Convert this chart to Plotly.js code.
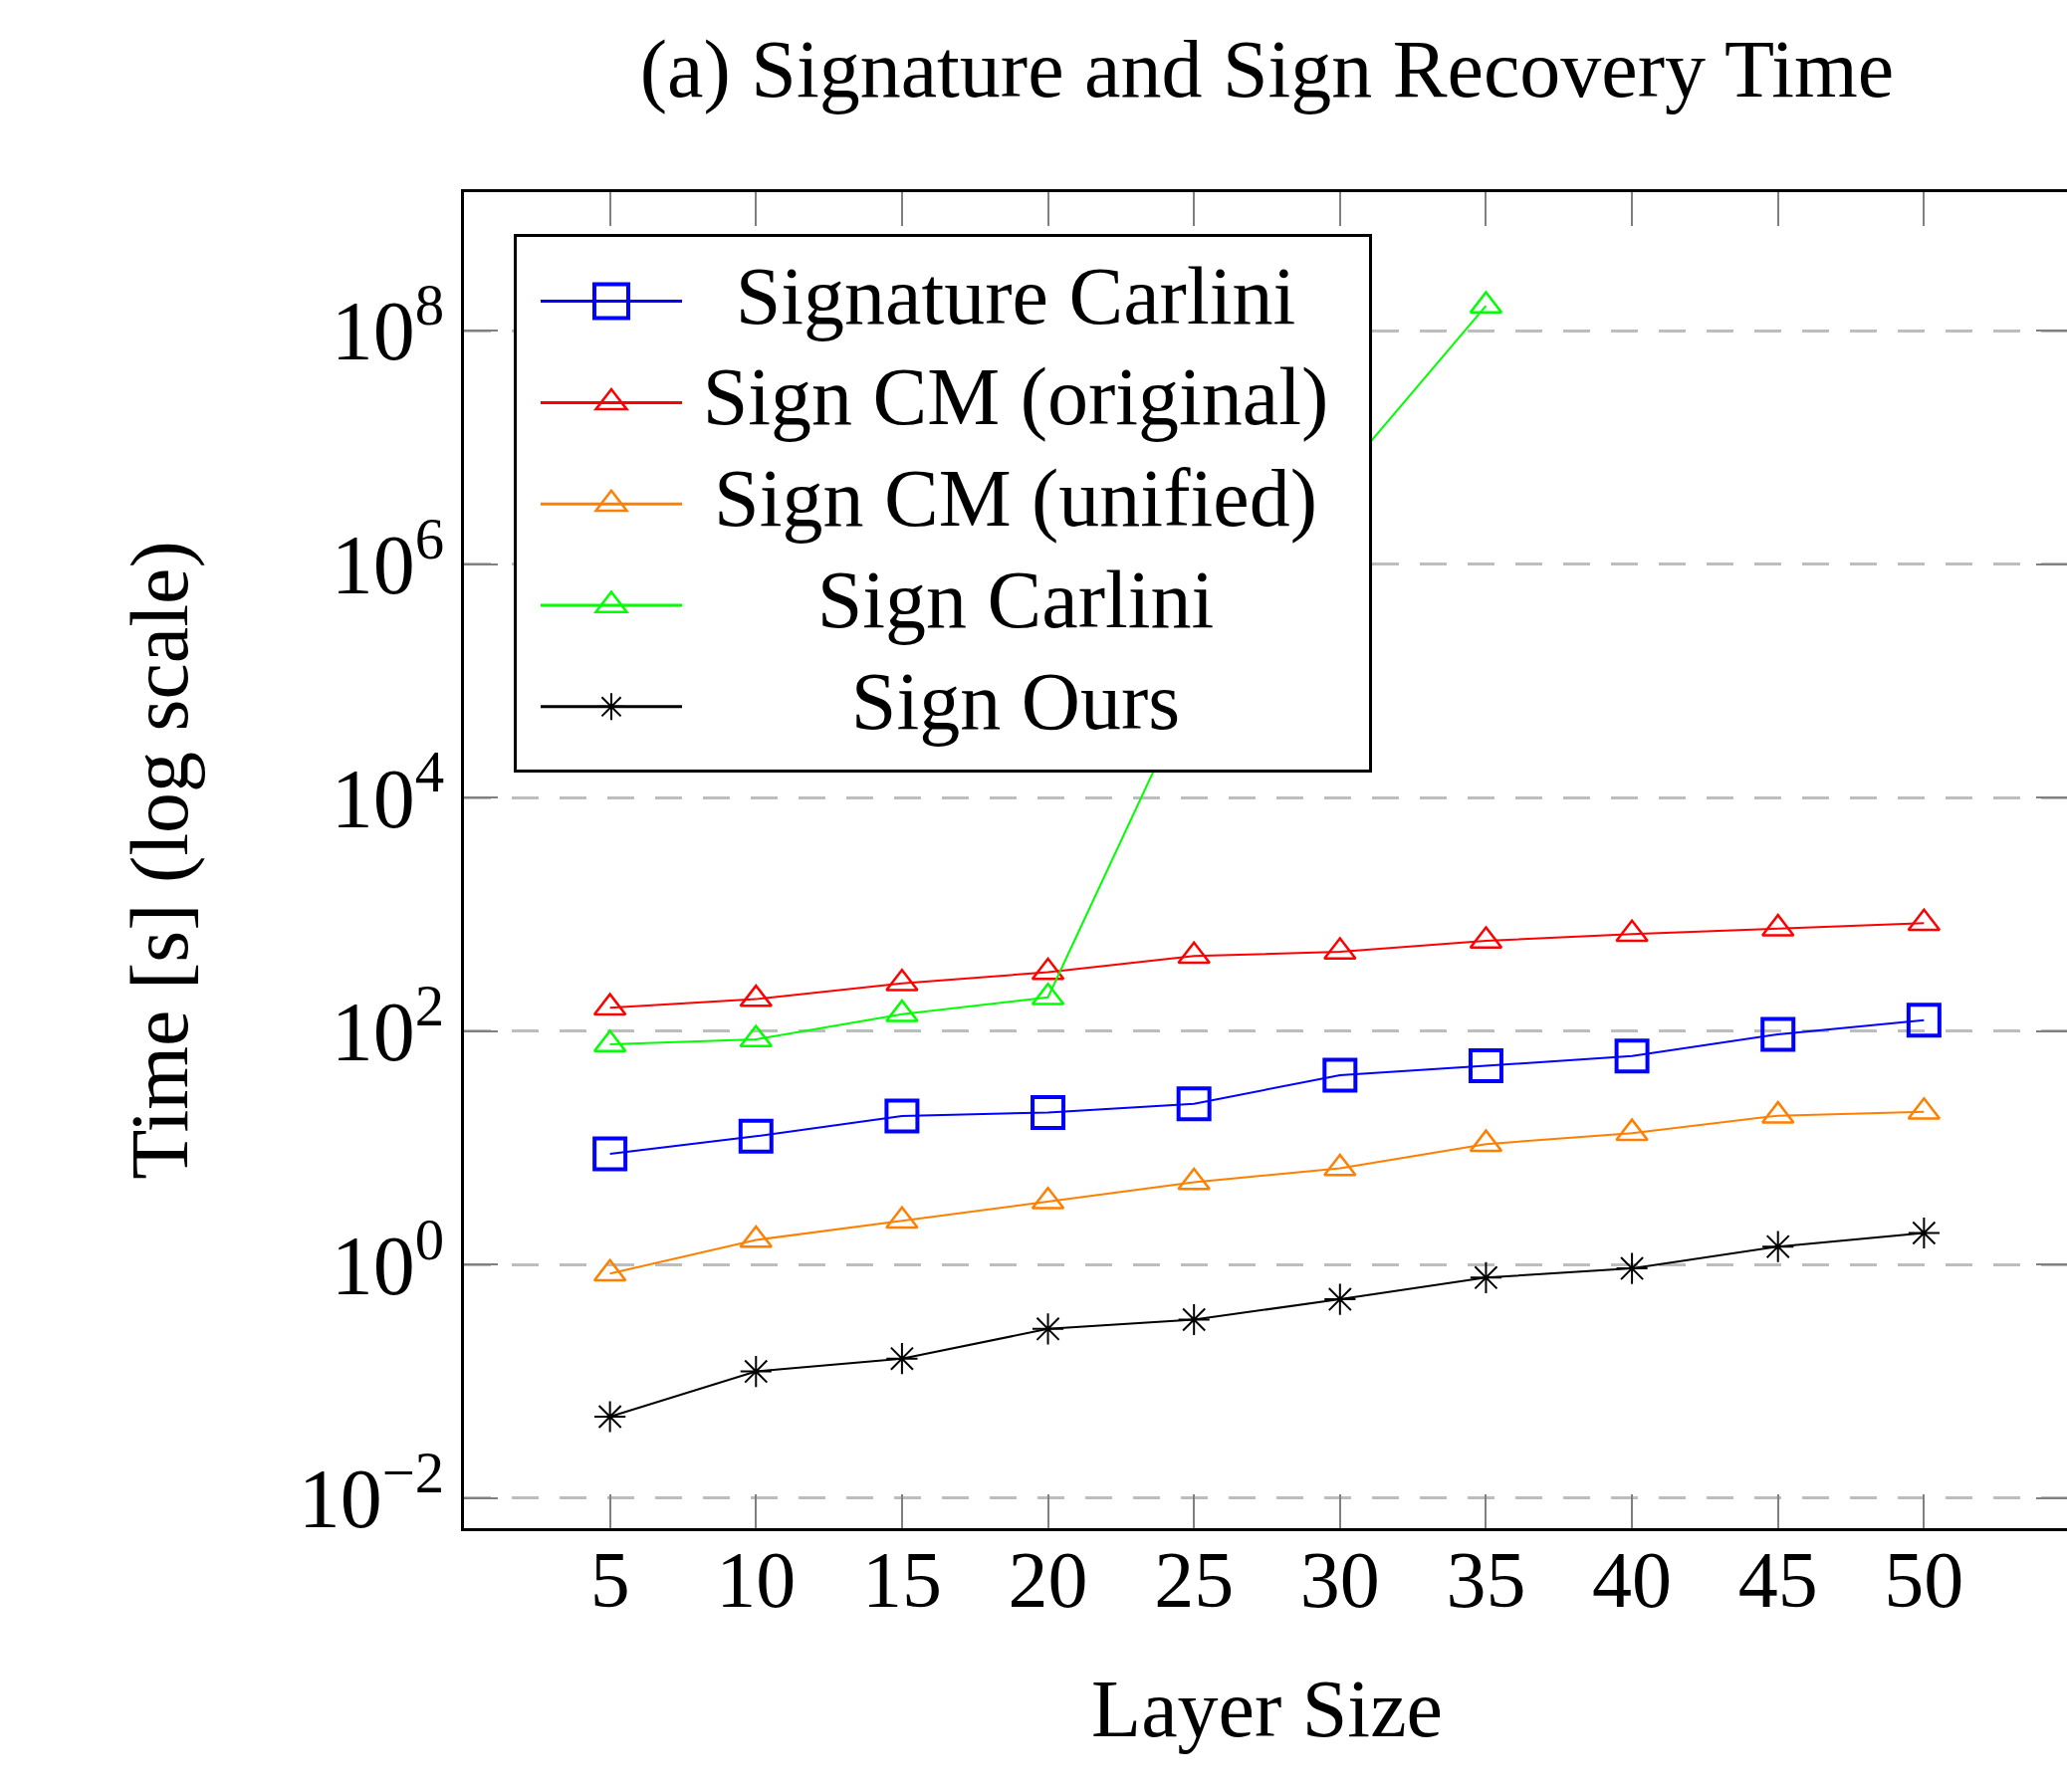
<!DOCTYPE html>
<html>
<head>
<meta charset="utf-8">
<script src="https://cdn.plot.ly/plotly-3.0.1.min.js"></script>
<style>
  html, body { margin: 0; padding: 0; overflow: hidden; background: #ffffff; }
  #chart { width: 2082px; height: 1800px; }
</style>
</head>
<body>
<div id="chart"></div>
<script>
// ---- data ----
var layerSizes = [5, 10, 15, 20, 25, 30, 35, 40, 45, 50];
var signatureCarlini = [8.9, 12.6, 18.8, 20.1, 23.9, 42, 50.5, 61.4, 94, 124];
var signCMOriginal = [159, 188, 257, 320, 440, 479, 594, 678, 757, 841];
var signCMUnified = [0.84, 1.63, 2.38, 3.48, 5.08, 6.7, 10.8, 13.4, 18.9, 20.4];
var signCarliniX = [5, 10, 15, 20, 25, 30, 35];
var signCarlini = [77, 85, 140, 195, 9.3e4, 5.5e6, 1.63e8];
var signOurs = [0.050, 0.122, 0.157, 0.282, 0.339, 0.506, 0.776, 0.93, 1.43, 1.87];

var seriesNames = ['Signature Carlini', 'Sign CM (original)', 'Sign CM (unified)', 'Sign Carlini', 'Sign Ours'];
var yTickVals = [1e-2, 1e0, 1e2, 1e4, 1e6, 1e8];
var yTickText = ['10<sup>\u22122</sup>', '10<sup>0</sup>', '10<sup>2</sup>', '10<sup>4</sup>', '10<sup>6</sup>', '10<sup>8</sup>'];
var xTickVals = [5, 10, 15, 20, 25, 30, 35, 40, 45, 50];

var FONT = 'Liberation Serif, Times New Roman, serif';

function tri(color) {
  return { symbol: 'triangle-up-open', size: 27, color: color, line: { color: color, width: 2.5 } };
}

var traces = [
  { x: layerSizes, y: signatureCarlini, name: seriesNames[0], type: 'scatter', mode: 'lines+markers',
    line: { color: '#0000ff', width: 2 },
    marker: { symbol: 'square-open', size: 31, color: '#0000ff', line: { color: '#0000ff', width: 4 } } },
  { x: layerSizes, y: signCMOriginal, name: seriesNames[1], type: 'scatter', mode: 'lines+markers',
    line: { color: '#ff0000', width: 2 }, marker: tri('#ff0000') },
  { x: layerSizes, y: signCMUnified, name: seriesNames[2], type: 'scatter', mode: 'lines+markers',
    line: { color: '#ff7f00', width: 2 }, marker: tri('#ff7f00') },
  { x: signCarliniX, y: signCarlini, name: seriesNames[3], type: 'scatter', mode: 'lines+markers',
    line: { color: '#00ff00', width: 2 }, marker: tri('#00ff00') },
  { x: layerSizes, y: signOurs, name: seriesNames[4], type: 'scatter', mode: 'lines+markers',
    line: { color: '#000000', width: 2 },
    marker: { symbol: 'asterisk-open', size: 26, color: '#000000', line: { color: '#000000', width: 2 } } }
];

var layout = {
  width: 2082,
  height: 1800,
  paper_bgcolor: '#ffffff',
  plot_bgcolor: '#ffffff',
  margin: { l: 466, r: 3, t: 193, b: 265, pad: 0 },
  font: { family: FONT, color: '#000000', size: 80 },
  title: {
    text: '(a) Signature and Sign Recovery Time',
    font: { family: FONT, size: 82, color: '#000000' },
    xref: 'paper', x: 0.5, xanchor: 'center',
    yref: 'container', y: 0.962, yanchor: 'middle'
  },
  xaxis: {
    type: 'linear',
    range: [0, 55],
    tickmode: 'array',
    tickvals: xTickVals,
    ticks: 'inside',
    ticklen: 34,
    tickwidth: 2,
    tickcolor: '#808080',
    ticklabelstandoff: -20,
    showline: true,
    linecolor: '#000000',
    linewidth: 3,
    mirror: 'allticks',
    showgrid: false,
    zeroline: false,
    tickfont: { family: FONT, size: 80, color: '#000000' },
    title: { text: 'Layer Size', font: { family: FONT, size: 82, color: '#000000' }, standoff: 57 },
    automargin: false
  },
  yaxis: {
    type: 'log',
    range: [-2.256, 9.185],
    tickmode: 'array',
    tickvals: yTickVals,
    ticktext: yTickText,
    ticks: 'inside',
    ticklen: 34,
    tickwidth: 2,
    tickcolor: '#808080',
    showline: true,
    linecolor: '#000000',
    linewidth: 3,
    mirror: 'allticks',
    showgrid: true,
    gridcolor: '#bdbdbd',
    gridwidth: 3,
    griddash: '27px,21px',
    zeroline: false,
    tickfont: { family: FONT, size: 84, color: '#000000' },
    title: { text: 'Time [s] (log scale)', font: { family: FONT, size: 82, color: '#000000' }, standoff: 84 },
    automargin: false
  },
  legend: {
    x: 0.031, xanchor: 'left', xref: 'paper',
    y: 0.9687, yanchor: 'top', yref: 'paper',
    bgcolor: '#ffffff',
    bordercolor: '#000000',
    borderwidth: 3,
    font: { family: FONT, size: 82, color: '#000000' },
    indentation: 0,
    itemwidth: 142,
    tracegroupgap: 0
  },
  showlegend: true
};

// legend box geometry (px, relative to the legend's top-left corner), as in the reference
var LEG = {
  width: 862, height: 541,
  rows: [67.6, 169.4, 271.2, 373.0, 474.8],
  lineStart: 27, lineEnd: 169, markerX: 98, lineWidth: 3,
  textCenter: 504, textBaseline: 22,
  markerWidths: [34, 31, 31, 31, 27]
};

function styleLegend(gd) {
  var leg = gd.querySelector('g.legend');
  if (!leg) return;
  var bw = 3;
  var bg = leg.querySelector('rect.bg');
  if (bg) {
    bg.setAttribute('width', LEG.width - bw);
    bg.setAttribute('height', LEG.height - bw);
  }
  document.querySelectorAll('clipPath[id^="legend"] rect').forEach(function (r) {
    r.setAttribute('width', LEG.width - 2 * bw);
    r.setAttribute('height', LEG.height - 2 * bw);
  });
  var items = leg.querySelectorAll('g.traces');
  items.forEach(function (g, i) {
    g.setAttribute('transform', 'translate(' + bw + ',' + LEG.rows[i] + ')');
    var t = g.querySelector('text.legendtext');
    if (t) {
      t.setAttribute('x', LEG.textCenter - bw);
      t.setAttribute('y', LEG.textBaseline);
      t.setAttribute('text-anchor', 'middle');
      t.style.textAnchor = 'middle';
      t.querySelectorAll('tspan').forEach(function (ts) {
        if (ts.hasAttribute('x')) ts.setAttribute('x', LEG.textCenter - bw);
      });
    }
    var layers = g.querySelector('g.layers');
    if (layers) layers.removeAttribute('transform');
    var ln = g.querySelector('path.js-line');
    if (ln) {
      ln.setAttribute('d', 'M' + (LEG.lineStart - bw) + ',0H' + (LEG.lineEnd - bw));
      ln.style.strokeWidth = LEG.lineWidth + 'px';
    }
    var pt = g.querySelector('.legendpoints path.scatterpts');
    if (pt) {
      pt.setAttribute('transform', 'translate(' + (LEG.markerX - bw) + ',0)');
      var bb = pt.getBBox();
      var s = bb.width > 0 ? LEG.markerWidths[i] / bb.width : 1;
      pt.setAttribute('transform', 'translate(' + (LEG.markerX - bw) + ',0) scale(' + s + ')');
      pt.style.vectorEffect = 'non-scaling-stroke';
    }
  });
}

Plotly.newPlot('chart', traces, layout, { staticPlot: true, displayModeBar: false }).then(styleLegend);
</script>
</body>
</html>
